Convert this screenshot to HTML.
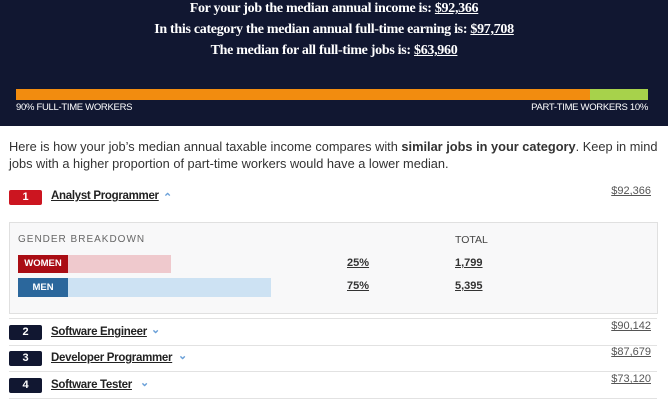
<html><head><style>
body{margin:0;width:668px;height:409px;overflow:hidden;background:#fff;font-family:"Liberation Sans",sans-serif;position:relative}
.a{position:absolute}
.hd{left:0;top:0;width:668px;height:126px;background:#111731}
.ln{width:668px;text-align:center;color:#fff;font-family:"Liberation Serif",serif;font-weight:bold;font-size:14px;letter-spacing:-0.3px}
.ln u{text-decoration:underline}
.sm{font-size:9.5px;color:#fff;letter-spacing:-0.3px}
.badge{width:33px;height:15px;border-radius:2px;color:#fff;font-size:11px;font-weight:bold;text-align:center;line-height:15px}
.nm{font-size:11.5px;font-weight:bold;color:#222;text-decoration:underline;letter-spacing:-0.3px}
.chev{color:#6aa0d8;font-size:11px;font-weight:bold}
.val{font-size:11px;color:#555;text-decoration:underline;right:17px}
.hr{left:9px;width:648px;height:1px;background:#e2e2e2}
.u{font-size:11px;font-weight:bold;color:#333;text-decoration:underline}
</style></head><body>
<div class="a hd"></div>
<div class="a ln" style="top:1px">For your job the median annual income is: <u>$92,366</u></div>
<div class="a ln" style="top:22px">In this category the median annual full-time earning is: <u>$97,708</u></div>
<div class="a ln" style="top:43px">The median for all full-time jobs is: <u>$63,960</u></div>
<div class="a" style="left:16px;top:89px;width:574px;height:11px;background:#f28c0f"></div>
<div class="a" style="left:590px;top:89px;width:58px;height:11px;background:#a7d24b"></div>
<div class="a sm" style="left:16px;top:102px">90% FULL-TIME WORKERS</div>
<div class="a sm" style="right:20px;top:102px">PART-TIME WORKERS 10%</div>
<div class="a" style="left:9px;top:138px;width:655px;font-size:12.8px;line-height:17px;color:#333">Here is how your job’s median annual taxable income compares with <b>similar jobs in your category</b>. Keep in mind jobs with a higher proportion of part-time workers would have a lower median.</div>
<div class="a badge" style="left:9px;top:190px;background:#cc1520">1</div>
<div class="a nm" style="left:51px;top:190px">Analyst Programmer</div><div class="a chev" style="left:163px;top:191px">&#8963;</div>
<div class="a val" style="top:185px">$92,366</div>
<div class="a" style="left:9px;top:222px;width:647px;height:90px;background:#f8f8f9;border:1px solid #e0e0e0"></div>
<div class="a" style="left:18px;top:234px;font-size:10px;color:#666;letter-spacing:1px">GENDER BREAKDOWN</div>
<div class="a" style="left:455px;top:234px;font-size:10.5px;color:#444">TOTAL</div>
<div class="a" style="left:18px;top:255px;width:153px;height:18px;background:#efc9cd"></div>
<div class="a" style="left:18px;top:255px;width:50px;height:18px;background:#aa0d14;color:#fff;font-size:9.5px;font-weight:bold;line-height:18px;text-align:center">WOMEN</div>
<div class="a" style="left:18px;top:278px;width:253px;height:19px;background:#cde2f3"></div>
<div class="a" style="left:18px;top:278px;width:50px;height:19px;background:#2b679c;color:#fff;font-size:9.5px;font-weight:bold;line-height:19px;text-align:center">MEN</div>
<div class="a u" style="left:347px;top:257px">25%</div>
<div class="a u" style="left:455px;top:257px">1,799</div>
<div class="a u" style="left:347px;top:280px">75%</div>
<div class="a u" style="left:455px;top:280px">5,395</div>
<div class="a hr" style="top:318px"></div>
<div class="a badge" style="left:9px;top:325px;background:#111731">2</div>
<div class="a nm" style="left:51px;top:326px">Software Engineer</div><div class="a chev" style="left:151px;top:323px">&#8964;</div>
<div class="a val" style="top:320px">$90,142</div>
<div class="a hr" style="top:345px"></div>
<div class="a badge" style="left:9px;top:351px;background:#111731">3</div>
<div class="a nm" style="left:51px;top:352px">Developer Programmer</div><div class="a chev" style="left:178px;top:349px">&#8964;</div>
<div class="a val" style="top:346px">$87,679</div>
<div class="a hr" style="top:371px"></div>
<div class="a badge" style="left:9px;top:378px;background:#111731">4</div>
<div class="a nm" style="left:51px;top:379px">Software Tester</div><div class="a chev" style="left:140px;top:376px">&#8964;</div>
<div class="a val" style="top:373px">$73,120</div>
<div class="a hr" style="top:398px"></div>
</body></html>
